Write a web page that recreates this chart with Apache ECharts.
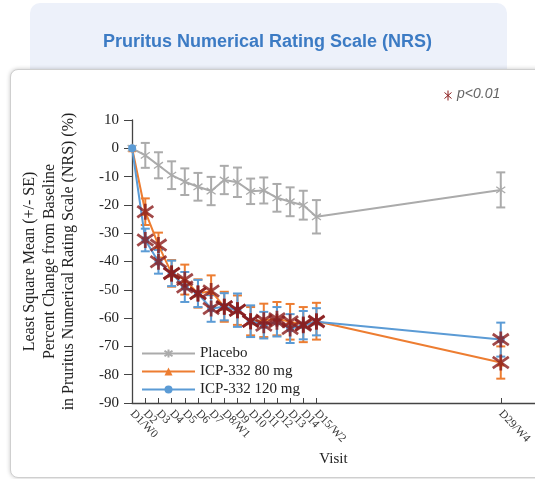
<!DOCTYPE html>
<html><head><meta charset="utf-8">
<script src="https://cdn.jsdelivr.net/npm/echarts@6/dist/echarts.min.js"></script>
<style>
html,body{margin:0;padding:0;background:#fff;}
#wrap{position:relative;width:535px;height:479px;overflow:hidden;}
#top{position:absolute;left:30px;top:3px;width:477px;height:90px;background:#EDF1FA;border-radius:10px;}
#card{position:absolute;left:10px;top:69px;width:560px;height:407px;background:#fff;border:1px solid #cfcfcf;border-radius:8px;box-shadow:0 0 4px rgba(0,0,0,0.22);}
#chart{position:absolute;left:0;top:0;width:535px;height:479px;}
</style></head>
<body>
<div id="wrap"><div id="top"></div><div id="card"></div><div id="chart"></div></div>
<script>
const days = [1,2,3,4,5,6,7,8,9,10,11,12,13,14,15,29];
const dayLabels = ['D1/W0','D2','D3','D4','D5','D6','D7','D8/W1','D9','D10','D11','D12','D13','D14','D15/W2','D29/W4'];
const yTicks = [10,0,-10,-20,-30,-40,-50,-60,-70,-80,-90];
const placebo   = [0,-2.5,-6.0,-9.5,-11.8,-13.6,-15.1,-11.2,-12.0,-15.2,-14.9,-17.5,-18.9,-20.1,-24.2,-14.7];
const placeboSE = [0,4.4,4.6,4.9,4.7,4.9,5.0,5.0,5.2,4.5,4.6,4.9,5.1,5.1,5.9,6.2];
const dose80    = [0,-22.4,-34.2,-44.2,-46.4,-51.3,-50.4,-56.0,-57.2,-61.1,-60.8,-60.2,-61.3,-62.3,-61.1,-75.7];
const dose80SE  = [0,4.7,4.4,4.7,5.3,5.0,5.5,5.3,5.2,5.0,5.9,5.9,6.3,6.2,6.5,5.7];
const dose120   = [0,-32.4,-40.1,-44.2,-49.0,-51.3,-56.6,-56.0,-57.2,-61.1,-62.5,-61.3,-63.7,-62.5,-61.3,-67.6];
const dose120SE = [0,4.0,4.2,4.5,5.3,4.8,4.7,4.8,5.9,5.6,4.7,5.2,5.1,5.0,4.8,6.0];
const significant80  = [false,true,true,true,true,true,true,true,true,true,true,true,true,true,true,true];
const significant120 = [false,true,true,true,true,true,true,true,true,true,true,true,true,true,true,true];

const GRAY = '#ABABAB', ORANGE = '#ED7D31', BLUE = '#5B9BD5', RED = '#8A1C1C';
const SERIF = '"Liberation Serif","Times New Roman",serif';
const STAR = 'path://M5,0L5,10M0.7,1.5L9.3,8.5M0.7,8.5L9.3,1.5';
const X_MIN = 0.99; // axis starts at D1 (a tiny lead so the first real label is never auto-hidden)

function errRender(capW){
  return function(params, api){
    const x = api.value(0), y = api.value(1), e = api.value(2);
    if (!e) return null;
    const t = api.coord([x, y + e]), b = api.coord([x, y - e]);
    const style = {stroke: api.visual('color'), lineWidth: 2};
    return {type:'group', children:[
      {type:'line', shape:{x1:t[0], y1:t[1], x2:b[0], y2:b[1]}, style},
      {type:'line', shape:{x1:t[0]-capW/2, y1:t[1], x2:t[0]+capW/2, y2:t[1]}, style},
      {type:'line', shape:{x1:b[0]-capW/2, y1:b[1], x2:b[0]+capW/2, y2:b[1]}, style}
    ]};
  };
}
function errSeries(vals, ses, color){
  return {type:'custom', renderItem: errRender(9), itemStyle:{color},
    encode:{x:0, y:1}, silent:true, z:2,
    data: days.map((d,i)=>[d, vals[i], ses[i]])};
}
function starSeries(vals, sig){
  return {type:'scatter', symbol: STAR, symbolSize: 16, silent:true, z:5,
    itemStyle:{color:'transparent', borderColor: RED, borderWidth: 2.8},
    data: days.map((d,i)=> sig[i] ? [d, vals[i]] : null).filter(v=>v)};
}
const starStyle = {stroke:RED, lineWidth:1};
const tickValues = [X_MIN].concat(days);

const chart = echarts.init(document.getElementById('chart'), null, {renderer:'canvas'});
chart.setOption({
  animation:false,
  title:{text:'Pruritus Numerical Rating Scale (NRS)', left:'center', top:28,
    textStyle:{fontFamily:'"Liberation Sans",Arial,sans-serif', fontWeight:'bold', fontSize:18, color:'#3C7BC4'}},
  grid:{left:132, right:0, top:120, bottom:76, containLabel:false, outerBoundsMode:'none'},
  legend:{orient:'vertical', left:136, top:341, itemWidth:53, itemHeight:10, itemGap:3,
    data:['Placebo','ICP-332 80 mg','ICP-332 120 mg'],
    textStyle:{fontFamily:SERIF, fontSize:15, color:'#222'}},
  xAxis:{type:'value', min:X_MIN, max:31.6,
    name:'Visit', nameLocation:'middle', nameGap:47,
    nameTextStyle:{fontFamily:SERIF, fontSize:15, color:'#222'},
    axisLine:{onZero:false, lineStyle:{color:'#444', width:1.3}},
    axisTick:{inside:true, length:5, customValues:tickValues, lineStyle:{color:'#444'}},
    axisLabel:{customValues:tickValues, showMinLabel:false, showMaxLabel:true, rotate:-46, margin:9,
      fontFamily:SERIF, fontSize:11.5, color:'#333',
      formatter:v=>{ const i = days.indexOf(v); return i < 0 ? '' : dayLabels[i]; }},
    splitLine:{show:false}},
  yAxis:{type:'value', min:-90, max:10, interval:10,
    name:'Least Square Mean (+/- SE)\nPercent Change from Baseline\nin Pruritus Numerical Rating Scale (NRS) (%)',
    nameLocation:'middle', nameRotate:90, nameGap:53,
    nameTextStyle:{fontFamily:SERIF, fontSize:16, lineHeight:19.5, color:'#222'},
    axisLine:{show:true, onZero:false, lineStyle:{color:'#444', width:1.3}},
    axisTick:{show:true, length:8, lineStyle:{color:'#444'}},
    axisLabel:{margin:13, fontFamily:SERIF, fontSize:15, color:'#222'},
    splitLine:{show:false}},
  graphic:[
    {type:'group', left:442, top:88, children:[
      {type:'line', shape:{x1:3.5,y1:0,x2:3.5,y2:10}, style:starStyle},
      {type:'line', shape:{x1:0,y1:2,x2:7,y2:8}, style:starStyle},
      {type:'line', shape:{x1:0,y1:8,x2:7,y2:2}, style:starStyle}
    ]},
    {type:'text', left:457, top:87, style:{text:'p<0.01', fontFamily:'"Liberation Sans",Arial,sans-serif', fontStyle:'italic', fontSize:14, fill:'#666'}}
  ],
  series:[
    errSeries(placebo, placeboSE, GRAY),
    {name:'Placebo', type:'line', data: days.map((d,i)=>[d, placebo[i]]), z:3,
      symbol:STAR, symbolSize:9, showSymbol:true,
      lineStyle:{color:GRAY, width:2}, itemStyle:{color:GRAY, borderColor:GRAY, borderWidth:1.3}},
    errSeries(dose80, dose80SE, ORANGE),
    {name:'ICP-332 80 mg', type:'line', data: days.map((d,i)=>[d, dose80[i]]), z:3,
      symbol:'triangle', symbolSize:8, lineStyle:{color:ORANGE, width:2}, itemStyle:{color:ORANGE}},
    errSeries(dose120, dose120SE, BLUE),
    {name:'ICP-332 120 mg', type:'line', data: days.map((d,i)=>[d, dose120[i]]), z:3,
      symbol:'circle', symbolSize:8, lineStyle:{color:BLUE, width:2}, itemStyle:{color:BLUE}},
    starSeries(dose80, significant80),
    starSeries(dose120, significant120)
  ]
});
</script>
</body></html>
